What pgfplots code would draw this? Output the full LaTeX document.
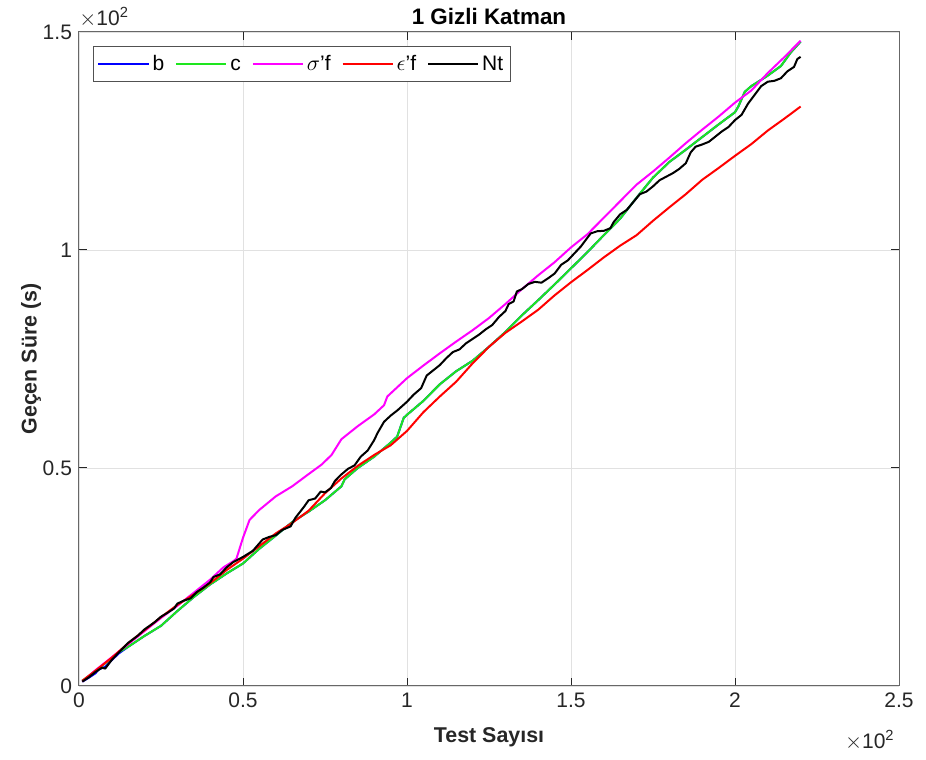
\documentclass[border=0pt]{standalone}
\usepackage{pgfplots}
\pgfplotsset{compat=1.18}
\usepackage{fontspec}
\setmainfont{Liberation Sans}

\definecolor{axgray}{RGB}{38,38,38}
\definecolor{gridgray}{RGB}{225,225,225}
\definecolor{mgreen}{RGB}{30,230,30}
\definecolor{mmagenta}{RGB}{255,0,255}
\definecolor{mblue}{RGB}{0,0,255}
\definecolor{mred}{RGB}{255,0,0}

\begin{document}
\begin{tikzpicture}
\begin{axis}[
  name=ax,
  scale only axis,
  width=410pt, height=327pt,
  xmin=0, xmax=250, ymin=0, ymax=150,
  xtick={0,50,100,150,200,250},
  xticklabels={0,0.5,1,1.5,2,2.5},
  ytick={0,50,100,150},
  yticklabels={0,0.5,1,1.5},
  scaled ticks=false,
  /pgf/number format/assume math mode=true,
  tick align=inside,
  xtick pos=both, ytick pos=both,
  major tick length=4pt,
  grid=major,
  major grid style={gridgray, line width=0.4pt},
  axis line style={axgray!70, line width=0.5pt},
  tick style={axgray, line width=0.5pt},
  ticklabel style={font=\fontsize{10.5}{12}\selectfont, text=axgray},
  xlabel={\textbf{Test Sayısı}},
  ylabel={\textbf{Geçen Süre (s)}},
  label style={font=\fontsize{10.7}{12}\selectfont, text=axgray},
  xlabel style={yshift=-3pt},
  ylabel style={yshift=-6pt},
  title={\textbf{1 Gizli Katman}},
  title style={font=\fontsize{11.2}{13}\selectfont, yshift=-6pt},
  legend columns=5,
  legend style={at={(rel axis cs:0.017,0.979)}, anchor=north west,
    font=\fontsize{10.5}{12}\selectfont, draw=axgray!80, line width=0.5pt,
    inner sep=2pt,
    nodes={text height=1.55ex, text depth=0.25ex, inner xsep=1.5pt},
    /tikz/every even column/.append style={column sep=4pt}},
  legend image code/.code={\draw[#1, line width=1pt] (0cm,0cm) -- (0.88cm,0cm);},
  every axis plot/.append style={line width=1pt, line join=round},
]
% b
\addplot[mblue] coordinates {
(1,1.0)(3,1.9)(5,2.9)(6,3.8)(8,4.4)(10,5.9)(12,7.4)(15,9.0)(20,11.5)(25,13.8)(30,17.2)(35,20.4)(40,23.3)(45,25.8)(50,28.1)(55,31.5)(60,34.5)(65,37.6)(70,40.0)(75,42.6)(80,45.8)(81,47.4)(85,50.0)(90,52.6)(95,55.8)(97,57.2)(99,61.5)(100,62.2)(105,65.4)(110,69.2)(115,72.2)(120,74.6)(125,77.8)(130,81.2)(135,85.0)(140,88.5)(145,92.1)(150,95.8)(155,99.5)(160,103.4)(165,107.2)(170,112.0)(175,116.6)(180,120.2)(185,123.0)(190,125.9)(195,128.8)(200,131.6)(201,132.9)(203,136.3)(205,137.6)(210,140.0)(214,142.2)(217,145.3)(220,147.8)
};
\addlegendentry{b}
% c
\addplot[mgreen] coordinates {
(1,1.2)(3,2.3)(5,3.5)(8,5.2)(10,6.4)(12,7.7)(15,9.0)(20,11.5)(25,13.8)(30,17.2)(35,20.4)(40,23.3)(45,25.8)(50,28.1)(55,31.5)(60,34.5)(65,37.6)(70,40.0)(75,42.6)(80,45.8)(81,47.4)(85,50.0)(90,52.6)(95,55.8)(97,57.2)(99,61.5)(100,62.2)(105,65.4)(110,69.2)(115,72.2)(120,74.6)(125,77.8)(130,81.2)(135,85.0)(140,88.5)(145,92.1)(150,95.8)(155,99.5)(160,103.4)(165,107.2)(170,112.0)(175,116.6)(180,120.2)(185,123.0)(190,125.9)(195,128.8)(200,131.6)(201,132.9)(203,136.3)(205,137.6)(210,140.0)(214,142.2)(217,145.3)(220,147.8)
};
\addlegendentry{c}
% sigma'f
\addplot[mmagenta] coordinates {
(1,1.0)(5,3.6)(10,6.6)(15,9.6)(20,12.6)(25,15.6)(30,18.4)(35,21.4)(40,24.4)(44,27.2)(47,28.6)(48,29.2)(50,34.0)(52,38.1)(55,40.4)(60,43.5)(65,45.8)(70,48.6)(74,50.8)(77,53.0)(80,56.6)(85,59.6)(90,62.3)(93,64.4)(94,66.4)(98,69.2)(100,70.6)(105,73.5)(110,76.3)(115,79.0)(120,81.6)(125,84.4)(130,87.6)(135,91.0)(140,94.2)(145,97.2)(150,100.6)(155,103.6)(160,107.4)(165,111.2)(170,115.0)(175,118.0)(180,121.2)(185,124.5)(190,127.6)(195,130.6)(200,133.8)(205,136.6)(210,140.6)(215,144.2)(220,148.0)
};
\addlegendentry{$\sigma$'f}
% epsilon'f
\addplot[mred] coordinates {
(1,1.2)(5,3.5)(10,6.5)(15,9.8)(20,12.8)(25,15.8)(30,18.6)(35,21.0)(40,23.6)(45,26.6)(50,29.2)(55,32.1)(60,35.0)(65,37.4)(70,40.2)(75,44.2)(80,47.6)(85,50.5)(90,53.0)(95,55.2)(100,58.5)(105,62.8)(110,66.4)(115,69.8)(120,74.0)(125,77.8)(130,81.0)(135,83.6)(140,86.3)(145,89.6)(150,92.6)(155,95.4)(160,98.3)(165,101.0)(170,103.4)(175,106.7)(180,109.8)(185,112.8)(190,116.1)(195,118.8)(200,121.6)(205,124.3)(210,127.4)(215,130.1)(220,132.9)
};
\addlegendentry{$\epsilon$'f}
% Nt
\addplot[black] coordinates {
(1,1.0)(3,2.0)(5,3.2)(7,4.2)(8,4.0)(10,6.0)(12,7.6)(15,9.9)(18,11.6)(20,13.0)(23,14.6)(25,15.9)(27,16.8)(29,17.8)(30,18.9)(32,19.6)(34,20.1)(36,21.6)(38,22.6)(40,23.8)(41,25.0)(43,25.6)(45,27.2)(47,28.4)(50,29.6)(53,31.0)(56,33.6)(58,34.2)(60,34.6)(62,35.8)(64.5,36.6)(66,38.6)(68.6,41.1)(70,42.6)(72,43.0)(73.7,44.6)(75,44.4)(76.8,45.4)(78,47.0)(79.8,48.4)(82,49.8)(84,50.6)(85.9,52.6)(88,54.0)(90,56.4)(91,58.0)(93,60.6)(95,62.0)(97.2,63.3)(100,65.2)(102,66.8)(104.3,68.3)(106,71.2)(108,72.4)(110,73.6)(112,75.2)(114,76.6)(116,77.2)(118,78.6)(120,79.6)(122,80.6)(124,81.8)(126,82.8)(128,84.6)(130,86.0)(131,87.6)(132.5,88.2)(133.5,90.5)(135,91.0)(137,92.2)(139,92.7)(141,92.5)(143,93.5)(145,94.6)(147,96.6)(149,97.6)(151,99.2)(153,100.8)(155,102.8)(156,103.8)(158,104.3)(160,104.4)(162,105.0)(163,106.4)(165,108.2)(167,109.2)(169,111.0)(171,112.8)(173,113.4)(175,114.6)(177,116.0)(179,116.8)(181,117.6)(183,118.6)(185,119.9)(186.5,122.4)(188,123.7)(190,124.2)(192,124.8)(194,126.0)(196,127.2)(198,128.2)(200,129.8)(202,131.0)(204,133.6)(206,135.6)(208,137.6)(210,138.6)(212,138.8)(214,139.4)(216,141.0)(218,142.0)(219,143.8)(220,144.3)
};
\addlegendentry{Nt}
\end{axis}
% axis exponent labels
\node[anchor=south west, font=\fontsize{10.5}{12}\selectfont, text=axgray, inner sep=0pt]
  at ([yshift=2pt]ax.north west) {$\times$10\textsuperscript{2}};
\node[anchor=north east, font=\fontsize{10.5}{12}\selectfont, text=axgray, inner sep=0pt]
  at ([xshift=-2pt,yshift=-22pt]ax.south east) {$\times$10\textsuperscript{2}};
\pgfresetboundingbox
\path[use as bounding box] ([xshift=-39.5pt,yshift=-37pt]ax.south west) rectangle ([xshift=13.5pt,yshift=16pt]ax.north east);
\end{tikzpicture}
\end{document}
